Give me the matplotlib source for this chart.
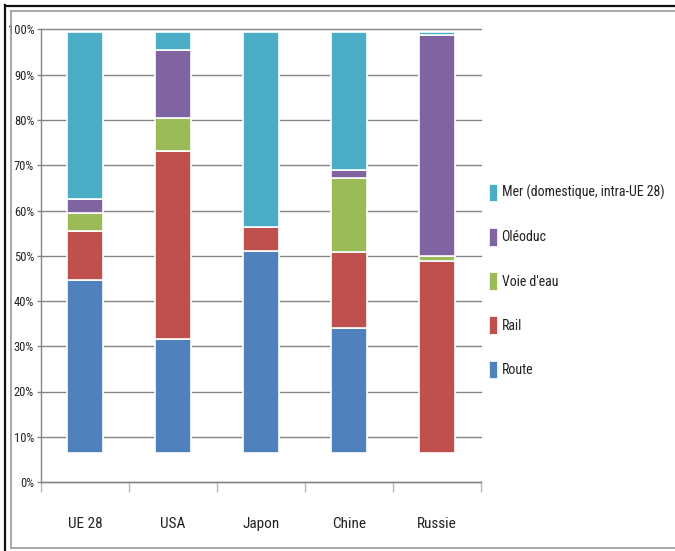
import matplotlib
matplotlib.use("Agg")
import matplotlib.pyplot as plt
from matplotlib.lines import Line2D
from matplotlib.patches import Patch
from matplotlib import font_manager
import numpy as np

# Prefer a narrow sans face; fall back to the narrowest installed one
installed = {f.name for f in font_manager.fontManager.ttflist}
narrow_choices = ["Liberation Sans Narrow", "DejaVu Sans Condensed", "Roboto Condensed",
                  "Open Sans Condensed", "Liberation Sans"]
narrow = next((n for n in narrow_choices if n in installed), "DejaVu Sans")
is_narrow = narrow not in ("Liberation Sans", "DejaVu Sans")
plt.rcParams['font.family'] = [narrow, 'DejaVu Sans']
if "Condensed" in narrow:
    plt.rcParams['font.stretch'] = 'condensed'

# Modal split of freight transport (%)
categories = ["UE 28", "USA", "Japon", "Chine", "Russie"]
route = [38.1, 25.2, 44.5, 27.5, 0.0]
rail = [10.8, 41.4, 5.3, 16.8, 42.3]
voie_eau = [4.0, 7.3, 0.0, 16.3, 1.2]
oleoduc = [3.1, 15.1, 0.0, 1.9, 48.8]
mer = [36.9, 3.9, 43.1, 30.4, 0.6]
base = 6.5

series = [
    ("Route", route, "#4F81BD"),
    ("Rail", rail, "#C0504D"),
    ("Voie d'eau", voie_eau, "#9BBB59"),
    ("Oléoduc", oleoduc, "#8064A2"),
    ("Mer (domestique, intra-UE 28)", mer, "#4BACC6"),
]
yticks = [0, 10, 20, 30, 40, 50, 60, 70, 80, 90, 100]
ytick_labels = [f"{v}%" for v in yticks]

tick_fs = 9 if is_narrow else 7.5
label_fs = 11 if is_narrow else 10
legend_fs = 10 if is_narrow else 8.5

W, H = 675, 551
fig = plt.figure(figsize=(W / 100, H / 100), dpi=100)
ax = fig.add_axes([41 / W, 1 - 482 / H, 440 / W, 452.5 / H])

x = np.arange(len(categories))
bottom = np.full(len(categories), base)
handles = []
for name, vals, color in series:
    vals = np.array(vals)
    ax.bar(x, vals, width=0.4, bottom=bottom, color=color,
           edgecolor="white", linewidth=1.2, zorder=3)
    bottom = bottom + vals
    handles.append(Patch(facecolor=color, edgecolor="white", linewidth=0.5, label=name))

ax.set_xlim(-0.5, len(categories) - 0.5)
ax.set_ylim(0, 100)
ax.set_yticks(yticks)
ax.set_yticklabels(ytick_labels)
ax.yaxis.grid(True, color="#868686", linewidth=1.0, zorder=0)
for gl in ax.get_ygridlines():
    gl.set_clip_on(False)
ax.set_axisbelow(True)

ax.set_xticks(x)
ax.set_xticklabels(categories)
ax.set_xticks(np.arange(-0.5, len(categories)), minor=True)
ax.tick_params(axis="x", which="major", length=0, pad=25.5, labelsize=label_fs, colors="#222222")
ax.tick_params(axis="x", which="minor", length=7, width=1, color="#BBBBBB", direction="out")
ax.tick_params(axis="y", length=3, width=1, color="#868686", pad=2, labelsize=tick_fs, labelcolor="#222222")

for side in ("top", "right"):
    ax.spines[side].set_visible(False)
ax.spines["left"].set_color("#868686")
ax.spines["bottom"].set_color("#868686")
ax.spines["left"].set_linewidth(1.0)
ax.spines["bottom"].set_linewidth(1.0)

leg = fig.legend(handles=handles[::-1], loc="center left",
                 bbox_to_anchor=(489 / W, 1 - 281 / H), frameon=False,
                 fontsize=legend_fs, handlelength=0.6, handleheight=1.6,
                 handletextpad=0.3, labelspacing=1.9,
                 borderaxespad=0, borderpad=0.0)
for t in leg.get_texts():
    t.set_color("#222222")

# Frame around the chart
fig.add_artist(Line2D([5.5 / W, 5.5 / W], [0, 1 - 5 / H], color="#111111", lw=1.6))
fig.add_artist(Line2D([5.5 / W, 1], [1 - 5.5 / H, 1 - 5.5 / H], color="#111111", lw=1.6))
fig.add_artist(Line2D([10.5 / W, 10.5 / W], [1 - 548 / H, 1 - 11 / H], color="#999999", lw=1.2))
fig.add_artist(Line2D([10.5 / W, 1], [1 - 11 / H, 1 - 11 / H], color="#999999", lw=1.2))
fig.add_artist(Line2D([10.5 / W, 1], [1 - 548 / H, 1 - 548 / H], color="#999999", lw=1.2))

fig.savefig("out.png", dpi=100)
